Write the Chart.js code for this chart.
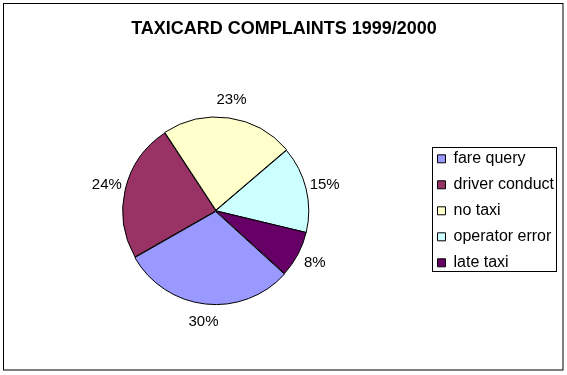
<!DOCTYPE html>
<html>
<head>
<meta charset="utf-8">
<script src="https://cdn.jsdelivr.net/npm/chart.js@4"></script>
<style>
  html, body { margin: 0; padding: 0; background: #fff; }
  #wrap { width: 567px; height: 375px; }
</style>
</head>
<body>
<div id="wrap"><canvas id="pie" width="567" height="375"></canvas></div>
<script>
// Taxicard complaints pie — share of complaints by type

const categories = ['fare query', 'driver conduct', 'no taxi', 'operator error', 'late taxi'];
const shares = [30, 24, 23, 15, 8];
const sliceColors = ['#9999FF', '#993366', '#FFFFCC', '#CCFFFF', '#660066'];
const sliceOffsets = [3, 0, 3, 0, 0];

const FONT = "'Liberation Sans', Arial, sans-serif";

// frame round the whole chart + frame round the legend
const framePlugin = {
  id: 'frames',
  afterDraw(chart) {
    const ctx = chart.ctx;
    ctx.save();
    ctx.strokeStyle = '#000';
    ctx.lineWidth = 1;
    ctx.strokeRect(3.5, 3.5, chart.width - 4 - 3.5, chart.height - 5 - 3.5);
    const hb = chart.legend.legendHitBoxes;
    if (hb && hb.length) {
      const l = Math.min(...hb.map(h => h.left)) - 6;
      const r = Math.max(...hb.map(h => h.left + h.width)) + 2;
      const t = hb[0].top - 4;
      const b = hb[hb.length - 1].top + hb[hb.length - 1].height;
      ctx.strokeRect(Math.round(l) + 0.5, Math.round(t) + 0.5, Math.round(r - l), Math.round(b - t));
    }
    ctx.restore();
  }
};

// percentage labels outside each slice
const pctLabels = {
  id: 'pctLabels',
  afterDatasetsDraw(chart) {
    const ctx = chart.ctx;
    const meta = chart.getDatasetMeta(0);
    const total = shares.reduce((s, v) => s + v, 0);
    ctx.save();
    ctx.font = '15px ' + FONT;
    ctx.fillStyle = '#000';
    ctx.textAlign = 'center';
    ctx.textBaseline = 'middle';
    meta.data.forEach((arc, i) => {
      const p = arc.getProps(['x', 'y', 'startAngle', 'endAngle', 'outerRadius'], true);
      const mid = (p.startAngle + p.endAngle) / 2;
      const r = p.outerRadius + 19;
      const x = p.x + Math.cos(mid) * r;
      const y = p.y + Math.sin(mid) * r;
      ctx.fillText(Math.round(shares[i] / total * 100) + '%', x, y);
    });
    ctx.restore();
  }
};

new Chart(document.getElementById('pie'), {
  type: 'pie',
  data: {
    labels: categories,
    datasets: [{
      data: shares,
      backgroundColor: sliceColors,
      borderColor: '#000',
      borderWidth: 1,
      offset: sliceOffsets
    }]
  },
  options: {
    responsive: false,
    animation: false,
    radius: 93,
    rotation: 132.3,
    layout: { padding: { left: 4, right: 3, top: 0, bottom: 30 } },
    plugins: {
      title: {
        display: true,
        text: 'TAXICARD COMPLAINTS 1999/2000',
        color: '#000',
        font: { family: FONT, size: 18, weight: 'bold' },
        padding: { top: 18, bottom: 37 }
      },
      legend: {
        position: 'right',
        fullSize: false,
        labels: {
          color: '#000',
          font: { family: FONT, size: 16 },
          boxWidth: 8,
          boxHeight: 8,
          padding: 10
        }
      },
      tooltip: { enabled: false }
    }
  },
  plugins: [pctLabels, framePlugin]
});
</script>
</body>
</html>
